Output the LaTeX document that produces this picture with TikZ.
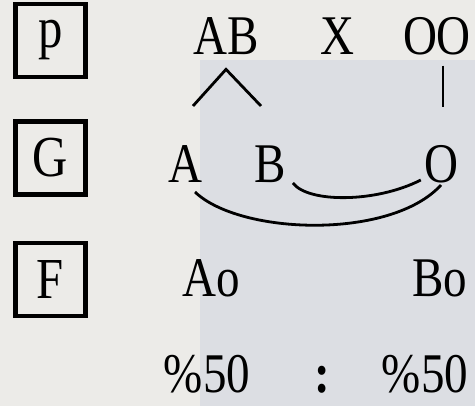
\documentclass[tikz,border=0pt]{standalone}
\usepackage{fontspec}
\setmainfont[FakeStretch=0.84]{Liberation Serif}
\usepackage{tikz}
\usetikzlibrary{positioning, calc}
\definecolor{bg-paper}{HTML}{ECEBE8}
\definecolor{bg-blue}{HTML}{DCDEE3}

\begin{document}
\begin{tikzpicture}[
			x=1pt, y=-1pt,
			rowbox/.style={
				draw, line width=4.5pt,
				minimum width=70pt, minimum height=73pt,
				inner sep=0pt, font=\fontsize{58}{64}\selectfont
			},
			allele/.style={inner sep=0pt, anchor=base, font=\fontsize{56}{64}\selectfont},
			link/.style={line width=2.8pt},
			node distance=40pt
			]
			\useasboundingbox (0,0) rectangle (475,406);
			\fill[bg-paper] (0,0) rectangle (475,406);
			\fill[bg-blue] (200,60) rectangle (475,406);
			% row labels
			\node[rowbox] (rowP) at (50.5,40.5) {p};
			\node[rowbox, below=of rowP] (rowG) {G};
			\node[rowbox, below=44pt of rowG] (rowF) {F};
			% parents
			\node[allele] (parAB) at (226,55) {AB};
			\node[allele] (cross) at (337,55) {X};
			\node[allele] (parOO) at (437,55) {OO};
			% gametes
			\node[allele] (gamA) at (185,183) {A};
			\node[allele] (gamB) at (270,183) {B};
			\node[allele] (gamO) at (441,183) {O};
			% offspring
			\node[allele] (offA) at (211,297) {Ao};
			\node[allele] (offB) at (440,297) {Bo};
			\node[allele] (ratA) at (207,393) {\%50};
			\node[allele] (ratSep) at (322,393) {\textbf{:}};
			\node[allele] (ratB) at (425,393) {\%50};
			% splitting lines
			\coordinate (apex) at ([yshift=-14pt]parAB.south);
			\coordinate (splitL) at (193,106);
			\coordinate (splitR) at (261,106);
			\draw[link] (splitL) -- (apex) -- (splitR);
			\draw[link] ([xshift=6pt,yshift=-10pt]parOO.south) -- ++(0,41);
			% pairings
			\draw[link] ([xshift=7pt]gamB.base east) .. controls +(15,20) and +(-45,23) .. ([xshift=-3pt,yshift=3pt]gamO.base west);
			\draw[link] ([xshift=10pt,yshift=-9pt]gamA.base) .. controls +(45,43) and +(-50,55) .. ([yshift=-2pt]gamO.base);
		\end{tikzpicture}
\end{document}
